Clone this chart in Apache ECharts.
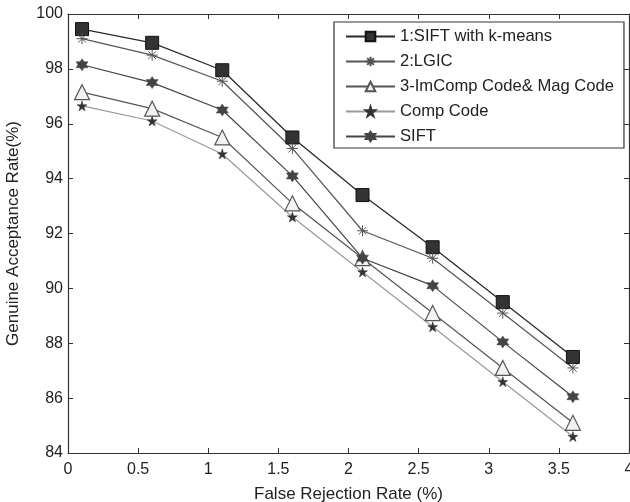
<!DOCTYPE html>
<html>
<head>
<meta charset="utf-8">
<script src="https://cdn.jsdelivr.net/npm/echarts@6/dist/echarts.min.js"></script>
<style>
html,body{margin:0;padding:0;background:#fff;}
#c{width:630px;height:502px;}
</style>
</head>
<body>
<div id="c"></div>
<script>
const frr = [0.1, 0.6, 1.1, 1.6, 2.1, 2.6, 3.1, 3.6];
const siftKmeans = [99.45, 98.95, 97.95, 95.5, 93.4, 91.5, 89.5, 87.5];
const lgic = [99.1, 98.5, 97.55, 95.1, 92.1, 91.1, 89.1, 87.1];
const imComp = [97.15, 96.55, 95.5, 93.1, 91.1, 89.1, 87.1, 85.1];
const compCode = [96.65, 96.1, 94.9, 92.6, 90.6, 88.6, 86.6, 84.6];
const sift = [98.15, 97.5, 96.5, 94.1, 91.1, 90.1, 88.05, 86.05];
const seriesNames = ['1:SIFT with k-means', '2:LGIC', '3-ImComp Code& Mag Code', 'Comp Code', 'SIFT'];
const xTicks = { min: 0, max: 4, interval: 0.5 };
const yTicks = { min: 84, max: 100, interval: 2 };

const pair = ys => frr.map((x, i) => [x, ys[i]]);
const FONT = 'Liberation Sans, Arial, sans-serif';
const asterisk = 'path://M0,-1L0,1M-1,0L1,0M-0.7,-0.7L0.7,0.7M-0.7,0.7L0.7,-0.7';
const pentagram = 'path://M0,-1L0.2245,-0.309L0.951,-0.309L0.363,0.118L0.588,0.809L0,0.382L-0.588,0.809L-0.363,0.118L-0.951,-0.309L-0.2245,-0.309Z';
const hexagram = 'path://M0,-1L0.2887,-0.5L0.866,-0.5L0.577,0L0.866,0.5L0.2887,0.5L0,1L-0.2887,0.5L-0.866,0.5L-0.577,0L-0.866,-0.5L-0.2887,-0.5Z';

const chart = echarts.init(document.getElementById('c'), null, { renderer: 'canvas' });
const axisCommon = {
  axisLine: { show: true, onZero: false, lineStyle: { color: '#333', width: 1.2 } },
  axisTick: { show: true, inside: true, length: 5, lineStyle: { color: '#333' } },
  splitLine: { show: false }
};
chart.setOption({
  backgroundColor: '#fff',
  animation: false,
  grid: { left: 68, right: 1, top: 14, bottom: 49, containLabel: false, outerBoundsMode: 'none' },
  xAxis: [
    Object.assign({
      type: 'value', min: xTicks.min, max: xTicks.max, interval: xTicks.interval, position: 'bottom',
      name: 'False Rejection Rate (%)', nameLocation: 'middle', nameGap: 33,
      nameTextStyle: { fontFamily: FONT, fontSize: 17, color: '#222' },
      axisLabel: { fontFamily: FONT, fontSize: 16, color: '#222', margin: 9 }
    }, axisCommon),
    Object.assign({
      type: 'value', min: xTicks.min, max: xTicks.max, interval: xTicks.interval, position: 'top',
      axisLabel: { show: false }
    }, axisCommon)
  ],
  yAxis: [
    Object.assign({
      type: 'value', min: yTicks.min, max: yTicks.max, interval: yTicks.interval, position: 'left',
      name: 'Genuine Acceptance Rate(%)', nameLocation: 'middle', nameGap: 46, nameRotate: 90,
      nameTextStyle: { fontFamily: FONT, fontSize: 17, color: '#222' },
      axisLabel: { fontFamily: FONT, fontSize: 16, color: '#222', margin: 5 }
    }, axisCommon),
    Object.assign({
      type: 'value', min: yTicks.min, max: yTicks.max, interval: yTicks.interval, position: 'right',
      axisLabel: { show: false }
    }, axisCommon)
  ],
  legend: {
    orient: 'vertical', left: 334, top: 22,
    itemWidth: 49, itemHeight: 12, itemGap: 8,
    padding: [6, 10, 3, 11],
    borderColor: '#333', borderWidth: 1.2, backgroundColor: '#fff',
    textStyle: { fontFamily: FONT, fontSize: 16.6, color: '#222', lineHeight: 17 },
    data: seriesNames
  },
  series: [
    { name: seriesNames[0], type: 'line', data: pair(siftKmeans), symbol: 'rect', symbolSize: 13,
      lineStyle: { color: '#2a2a2a', width: 1.3 }, itemStyle: { color: '#333', borderColor: '#111', borderWidth: 1 } },
    { name: seriesNames[1], type: 'line', data: pair(lgic), symbol: asterisk, symbolSize: 11,
      lineStyle: { color: '#555', width: 1.2 }, itemStyle: { color: '#555', borderColor: '#555', borderWidth: 1 } },
    { name: seriesNames[2], type: 'line', data: pair(imComp), symbol: 'triangle', symbolSize: 15,
      lineStyle: { color: '#555', width: 1.2 }, itemStyle: { color: '#f2f2f2', borderColor: '#555', borderWidth: 1.2 } },
    { name: seriesNames[3], type: 'line', data: pair(compCode), symbol: pentagram, symbolSize: 10,
      lineStyle: { color: '#999', width: 1.2 }, itemStyle: { color: '#333', borderColor: '#333', borderWidth: 0.5 } },
    { name: seriesNames[4], type: 'line', data: pair(sift), symbol: hexagram, symbolSize: 12,
      lineStyle: { color: '#444', width: 1.2 }, itemStyle: { color: '#444', borderColor: '#444', borderWidth: 0.5 } }
  ]
});
</script>
</body>
</html>
